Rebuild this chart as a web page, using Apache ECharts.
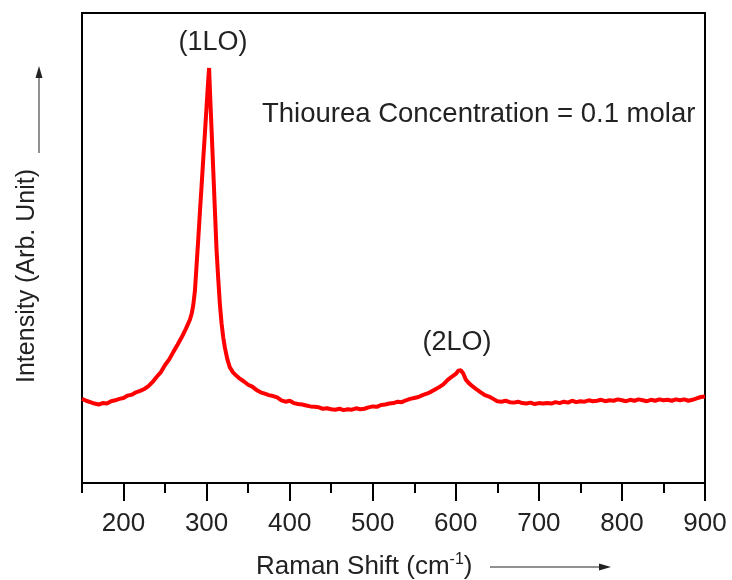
<!DOCTYPE html>
<html>
<head>
<meta charset="UTF-8" />
<title>Raman Spectrum</title>
<style>
  html, body { margin: 0; padding: 0; background: #fff; }
  #chart { width: 732px; height: 580px; }
</style>
</head>
<body>
<div id="chart"></div>
<script src="https://cdn.jsdelivr.net/npm/echarts@6/dist/echarts.min.js"></script>
<script>
  // Raman shift (cm^-1) and intensity (arb. unit)
  const shifts = [
    150, 155, 160, 165, 170, 175, 180, 185, 190, 195,
    200, 205, 210, 215, 220, 225, 230, 235, 240, 245,
    250, 255, 260, 265, 270, 275, 280, 282, 284, 286,
    288, 290, 292, 294, 296, 298, 300, 302, 303, 304,
    306, 308, 310, 312, 314, 316, 318, 320, 322, 325,
    328, 332, 336, 340, 345, 350, 355, 360, 365, 370,
    375, 380, 385, 390, 395, 400, 405, 410, 415, 420,
    425, 430, 435, 440, 445, 450, 455, 460, 465, 470,
    475, 480, 485, 490, 495, 500, 505, 510, 515, 520,
    525, 530, 535, 540, 545, 550, 555, 560, 565, 570,
    575, 580, 585, 590, 595, 600, 603, 606, 609, 612,
    616, 620, 625, 630, 635, 640, 645, 650, 655, 660,
    665, 670, 675, 680, 685, 690, 695, 700, 705, 710,
    715, 720, 725, 730, 735, 740, 745, 750, 755, 760,
    765, 770, 775, 780, 785, 790, 795, 800, 805, 810,
    815, 820, 825, 830, 835, 840, 845, 850, 855, 860,
    865, 870, 875, 880, 885, 890, 895, 900
  ];
  const intensity = [
    17.9, 17.5, 17.2, 16.9, 16.7, 17.0, 16.9, 17.4, 17.6, 17.9,
    18.1, 18.6, 18.8, 19.3, 19.6, 20.0, 20.6, 21.5, 22.6, 23.6,
    25.1, 26.3, 27.9, 29.4, 31.0, 32.8, 34.8, 36.0, 37.9, 41.0,
    46.5, 52.0, 57.8, 63.3, 69.0, 74.5, 80.2, 85.8, 88.3, 83.6,
    75.1, 66.6, 58.0, 49.5, 43.5, 38.0, 34.0, 31.0, 28.8, 26.3,
    24.6, 23.5, 22.8, 22.2, 21.6, 20.9, 20.5, 19.8, 19.3, 19.0,
    18.7, 18.5, 18.2, 17.6, 17.3, 17.5, 17.0, 16.8, 16.7, 16.5,
    16.3, 16.2, 16.1, 15.8, 15.9, 15.7, 15.6, 15.8, 15.5, 15.7,
    15.6, 15.9, 15.7, 15.8, 16.1, 16.3, 16.2, 16.6, 16.7, 16.9,
    17.0, 17.3, 17.2, 17.6, 17.9, 18.1, 18.3, 18.7, 19.0, 19.4,
    19.9, 20.4, 21.0, 21.9, 22.6, 23.2, 23.9, 24.0, 23.3, 22.0,
    21.2, 20.6, 19.9, 19.3, 18.7, 18.4, 17.9, 17.4, 17.3, 17.5,
    17.2, 17.1, 17.3, 17.0, 16.9, 17.1, 16.8, 17.0, 16.9, 17.0,
    16.9, 17.2, 17.0, 17.3, 17.1, 17.5, 17.2, 17.4, 17.3, 17.6,
    17.4, 17.5, 17.7, 17.4, 17.6, 17.5, 17.8, 17.6, 17.4, 17.7,
    17.5, 17.8, 17.6, 17.4, 17.7, 17.5, 17.8, 17.6, 17.7, 17.5,
    17.8, 17.6, 17.8, 17.5, 17.7, 18.0, 18.3, 18.4
  ];
  const majorTicks = [200, 300, 400, 500, 600, 700, 800, 900];
  const minorTicks = [150, 250, 350, 450, 550, 650, 750, 850];

  const font = "'Liberation Sans', Arial, sans-serif";
  const chart = echarts.init(document.getElementById('chart'));

  const option = {
    backgroundColor: '#fff',
    animation: false,
    grid: {
      left: 82, right: 27, top: 13, bottom: 97,
      show: true, borderColor: '#000', borderWidth: 2, backgroundColor: 'transparent'
    },
    xAxis: [
      {
        type: 'value', min: 150, max: 900, position: 'bottom',
        axisLine: { show: true, lineStyle: { color: '#000', width: 2 } },
        axisTick: { show: true, customValues: majorTicks, length: 18, lineStyle: { color: '#000', width: 2 } },
        axisLabel: { customValues: majorTicks, margin: 28, fontSize: 26, fontFamily: font, color: '#222' },
        splitLine: { show: false }
      },
      {
        type: 'value', min: 150, max: 900, position: 'bottom',
        axisLine: { show: false },
        axisTick: { show: true, customValues: minorTicks, length: 10, lineStyle: { color: '#000', width: 2 } },
        axisLabel: { show: false },
        splitLine: { show: false }
      }
    ],
    yAxis: {
      type: 'value', min: 0, max: 100,
      axisLine: { show: true, lineStyle: { color: '#000', width: 2 } },
      axisTick: { show: false },
      axisLabel: { show: false },
      splitLine: { show: false }
    },
    graphic: [
      // y-axis title with arrow
      {
        type: 'text', x: 27, y: 276, rotation: Math.PI / 2,
        style: { text: 'Intensity (Arb. Unit)', font: '25px ' + font, fill: '#222', align: 'center', verticalAlign: 'middle' }
      },
      { type: 'line', shape: { x1: 39, y1: 153, x2: 39, y2: 76 }, style: { stroke: '#222', lineWidth: 1 } },
      { type: 'polygon', shape: { points: [[39, 66], [35.5, 78], [42.5, 78]] }, style: { fill: '#222' } },
      // x-axis title with arrow
      {
        type: 'text', x: 256, y: 567,
        style: {
          text: '{t|Raman Shift (cm}{s|-1}{t|)}',
          verticalAlign: 'middle',
          rich: {
            t: { font: '26px ' + font, fill: '#222' },
            s: { font: '16px ' + font, fill: '#222', verticalAlign: 'top', padding: [0, 0, 14, 0] }
          }
        }
      },
      { type: 'line', shape: { x1: 490, y1: 567, x2: 600, y2: 567 }, style: { stroke: '#222', lineWidth: 1 } },
      { type: 'polygon', shape: { points: [[611, 567], [599, 563.5], [599, 570.5]] }, style: { fill: '#222' } },
      // annotations
      {
        type: 'text', x: 213, y: 43,
        style: { text: '(1LO)', font: '27px ' + font, fill: '#222', align: 'center', verticalAlign: 'middle' }
      },
      {
        type: 'text', x: 457, y: 343,
        style: { text: '(2LO)', font: '27px ' + font, fill: '#222', align: 'center', verticalAlign: 'middle' }
      },
      {
        type: 'text', x: 262, y: 114,
        style: { text: 'Thiourea Concentration = 0.1 molar', font: '27.5px ' + font, fill: '#222', verticalAlign: 'middle' }
      }
    ],
    series: [
      {
        type: 'line',
        xAxisIndex: 0,
        data: shifts.map((s, i) => [s, intensity[i]]),
        showSymbol: false,
        lineStyle: { color: '#ff0000', width: 4 },
        silent: true
      }
    ]
  };

  chart.setOption(option);
</script>
</body>
</html>
